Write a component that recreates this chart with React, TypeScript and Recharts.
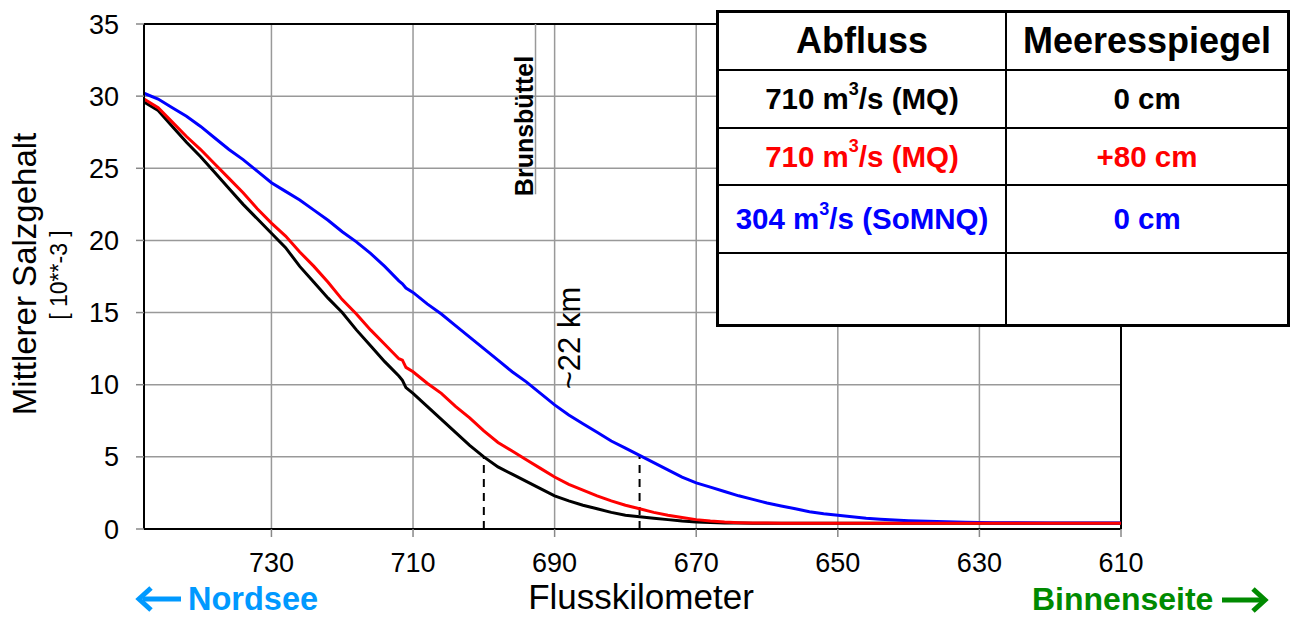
import React from "react"
import {
  LineChart,
  Line,
  XAxis,
  YAxis,
  CartesianGrid,
  ReferenceLine,
} from "recharts"

// Flusskilometer (Elbe), von der Nordsee nach Binnen
const km = [
  748, 746, 744, 742, 740, 738, 736, 734, 732, 730, 728, 726, 724, 722, 720, 718, 716, 714, 712, 711.5,
  711, 710, 708, 706, 704, 702, 700, 698, 696, 694, 692, 690, 688, 686, 684, 682, 680, 678, 676, 674,
  672, 670, 668, 666, 664, 662, 660, 658, 656, 654, 652, 650, 648, 646, 644, 642, 640, 636, 632, 628,
  620, 610,
]

// 710 m3/s (MQ), 0 cm
const mq0 = [
  29.6, 29.0, 27.9, 26.8, 25.8, 24.7, 23.6, 22.5, 21.5, 20.5, 19.5, 18.2, 17.1, 16.0, 15.0, 13.8, 12.7, 11.6, 10.6, 10.3,
  9.8, 9.4, 8.5, 7.6, 6.7, 5.8, 5.0, 4.3, 3.8, 3.3, 2.8, 2.3, 1.95, 1.65, 1.4, 1.15, 0.95, 0.85, 0.75, 0.65,
  0.55, 0.48, 0.45, 0.42, 0.41, 0.4, 0.4, 0.4, 0.4, 0.4, 0.4, 0.4, 0.4, 0.4, 0.4, 0.4, 0.4, 0.4, 0.4, 0.4,
  0.4, 0.4,
]

// 710 m3/s (MQ), +80 cm
const mq80 = [
  29.8, 29.2, 28.2, 27.2, 26.3, 25.3, 24.3, 23.3, 22.2, 21.2, 20.3, 19.2, 18.2, 17.1, 15.9, 14.9, 13.8, 12.8, 11.8, 11.7,
  11.2, 10.9, 10.1, 9.4, 8.5, 7.7, 6.8, 6.0, 5.4, 4.8, 4.2, 3.6, 3.1, 2.7, 2.3, 1.95, 1.65, 1.4, 1.15, 0.95,
  0.8, 0.65, 0.55, 0.48, 0.44, 0.42, 0.41, 0.4, 0.4, 0.4, 0.4, 0.4, 0.4, 0.4, 0.4, 0.4, 0.4, 0.4, 0.4, 0.4,
  0.4, 0.4,
]

// 304 m3/s (SoMNQ), 0 cm
const somnq = [
  30.2, 29.8, 29.2, 28.6, 27.9, 27.1, 26.3, 25.6, 24.8, 24.0, 23.4, 22.8, 22.1, 21.4, 20.6, 19.9, 19.1, 18.2, 17.2, 17.0,
  16.7, 16.4, 15.6, 14.9, 14.1, 13.3, 12.5, 11.7, 10.9, 10.2, 9.4, 8.6, 7.9, 7.3, 6.7, 6.1, 5.6, 5.1, 4.6, 4.1,
  3.6, 3.2, 2.9, 2.6, 2.3, 2.05, 1.8, 1.6, 1.4, 1.2, 1.05, 0.95, 0.85, 0.75, 0.68, 0.62, 0.58, 0.52, 0.47, 0.44,
  0.42, 0.42,
]

const xTicks = [730, 710, 690, 670, 650, 630, 610]
const yTicks = [0, 5, 10, 15, 20, 25, 30, 35]

// Brunsbüttel und die beiden 5er-Schnittpunkte (~22 km)
const brunsbuettelKm = 692.7
const markers = [
  { km: 700, value: 5.0 },
  { km: 678, value: 5.1 },
]

const tableRows = [
  { abfluss: "710", name: "MQ", pegel: "0 cm", color: "#000000" },
  { abfluss: "710", name: "MQ", pegel: "+80 cm", color: "#ff0000" },
  { abfluss: "304", name: "SoMNQ", pegel: "0 cm", color: "#0000ff" },
]

const data = km.map((k, i) => ({ km: k, mq0: mq0[i], mq80: mq80[i], somnq: somnq[i] }))

const FONT = "'Liberation Sans', Arial, sans-serif"

function Cell({ children, right, last, style }: any) {
  return (
    <div
      style={{
        display: "flex",
        alignItems: "center",
        justifyContent: "center",
        borderRight: right ? "2px solid #000" : undefined,
        borderBottom: last ? undefined : "2px solid #000",
        boxSizing: "border-box",
        fontWeight: "bold",
        whiteSpace: "nowrap",
        ...style,
      }}
    >
      {children}
    </div>
  )
}

function LegendTable() {
  return (
    <div
      style={{
        position: "absolute",
        left: 716,
        top: 10,
        width: 574,
        height: 317,
        border: "3px solid #000",
        boxSizing: "border-box",
        background: "#fff",
        display: "grid",
        gridTemplateColumns: "288px 1fr",
        gridTemplateRows: "58px 58px 57px 68px 1fr",
        fontFamily: FONT,
      }}
    >
      <Cell right style={{ fontSize: 36 }}>Abfluss</Cell>
      <Cell style={{ fontSize: 36 }}>Meeresspiegel</Cell>
      {tableRows.map((r, i) => (
        <React.Fragment key={i}>
          <Cell right style={{ fontSize: 29.5, color: r.color }}>
            {r.abfluss} m
            <span style={{ fontSize: 18, position: "relative", top: -10 }}>3</span>/s ({r.name})
          </Cell>
          <Cell style={{ fontSize: 29.5, color: r.color }}>{r.pegel}</Cell>
        </React.Fragment>
      ))}
      <Cell right last />
      <Cell last />
    </div>
  )
}

function Annotations() {
  return (
    <svg
      width={1290}
      height={617}
      style={{ position: "absolute", left: 0, top: 0, pointerEvents: "none" }}
      fontFamily={FONT}
    >
      <text
        transform="translate(24,274) rotate(-90)"
        textAnchor="middle"
        dominantBaseline="central"
        fontSize={33}
        fill="#000"
      >
        Mittlerer Salzgehalt
      </text>
      <text
        transform="translate(59,275) rotate(-90)"
        textAnchor="middle"
        dominantBaseline="central"
        fontSize={23}
        fill="#000"
      >
        [ 10**-3 ]
      </text>
      <text
        transform="translate(524,126) rotate(-90)"
        textAnchor="middle"
        dominantBaseline="central"
        fontSize={25}
        fontWeight="bold"
        fill="#000"
      >
        Brunsbüttel
      </text>
      <text
        transform="translate(569,338) rotate(-90)"
        textAnchor="middle"
        dominantBaseline="central"
        fontSize={31}
        fill="#000"
      >
        ~22 km
      </text>
      <text x={641} y={609} textAnchor="middle" fontSize={35} fill="#000">
        Flusskilometer
      </text>

      {/* Nordsee */}
      <line x1={143} y1={599} x2={181} y2={599} stroke="#0099ff" strokeWidth={5} />
      <polyline points="151,588 139,599 151,610" fill="none" stroke="#0099ff" strokeWidth={5} />
      <text x={188} y={610} fontSize={32.5} fontWeight="bold" fill="#0099ff">
        Nordsee
      </text>

      {/* Binnenseite */}
      <text x={1032} y={610} fontSize={32} fontWeight="bold" fill="#008a00">
        Binnenseite
      </text>
      <line x1={1222} y1={600} x2={1262} y2={600} stroke="#008a00" strokeWidth={5} />
      <polyline points="1253,589 1265,600 1253,611" fill="none" stroke="#008a00" strokeWidth={5} />
    </svg>
  )
}

export default function App() {
  return (
    <div
      style={{
        position: "absolute",
        left: 0,
        top: 0,
        width: 1290,
        height: 617,
        background: "#fff",
        fontFamily: FONT,
      }}
    >
      <LineChart width={1290} height={617} data={data} margin={{ top: 24, right: 169, left: 0, bottom: 0 }}>
        <CartesianGrid stroke="#999" strokeWidth={1.5} />
        <XAxis
          dataKey="km"
          type="number"
          domain={[610, 748]}
          reversed
          ticks={xTicks}
          height={88}
          tickSize={8}
          tickMargin={16}
          tick={{ fontSize: 27, fill: "#000", fontFamily: FONT }}
          axisLine={{ stroke: "#000", strokeWidth: 2 }}
          tickLine={{ stroke: "#888", strokeWidth: 1.5 }}
        />
        <YAxis
          type="number"
          domain={[0, 35]}
          ticks={yTicks}
          width={144}
          tickSize={8}
          tickMargin={17}
          tick={{ fontSize: 27, fill: "#000", fontFamily: FONT }}
          axisLine={{ stroke: "#000", strokeWidth: 2 }}
          tickLine={{ stroke: "#888", strokeWidth: 1.5 }}
        />
        <ReferenceLine y={35} stroke="#000" strokeWidth={2} />
        <ReferenceLine x={610} stroke="#000" strokeWidth={2} />
        <ReferenceLine
          segment={[
            { x: brunsbuettelKm, y: 23.2 },
            { x: brunsbuettelKm, y: 35 },
          ]}
          stroke="#999"
          strokeWidth={1.5}
        />
        {markers.map((m) => (
          <ReferenceLine
            key={m.km}
            segment={[
              { x: m.km, y: 0 },
              { x: m.km, y: m.value },
            ]}
            stroke="#000"
            strokeWidth={2}
            strokeDasharray="8 6"
          />
        ))}
        <Line type="linear" dataKey="mq0" stroke="#000" strokeWidth={3} dot={false} isAnimationActive={false} />
        <Line type="linear" dataKey="somnq" stroke="#0000ff" strokeWidth={3} dot={false} isAnimationActive={false} />
        <Line type="linear" dataKey="mq80" stroke="#ff0000" strokeWidth={3} dot={false} isAnimationActive={false} />
      </LineChart>
      <Annotations />
      <LegendTable />
    </div>
  )
}
